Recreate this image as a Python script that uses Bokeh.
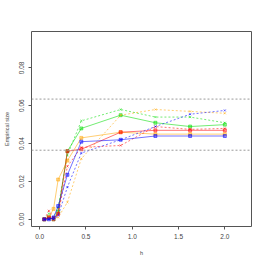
from bokeh.plotting import figure
from bokeh.models import FixedTicker, Span, Range1d
from bokeh.embed import file_html
from bokeh.resources import INLINE

h = [0.05, 0.1, 0.15, 0.2, 0.3, 0.45, 0.875, 1.25, 1.625, 2.0]

green_solid = [0.000, 0.001, 0.000, 0.004, 0.036, 0.048, 0.055, 0.051, 0.049, 0.050]
green_dash = [0.000, 0.003, 0.001, 0.006, 0.034, 0.052, 0.058, 0.054, 0.054, 0.051]
orange_solid = [0.000, 0.001, 0.0055, 0.021, 0.031, 0.043, 0.046, 0.045, 0.045, 0.045]
orange_dash = [0.000, 0.000, 0.001, 0.001, 0.009, 0.032, 0.055, 0.058, 0.057, 0.056]
red_solid = [0.000, 0.001, 0.000, 0.003, 0.036, 0.037, 0.046, 0.047, 0.047, 0.047]
red_dash = [0.000, 0.0045, 0.001, 0.0025, 0.028, 0.038, 0.039, 0.049, 0.0475, 0.048]
blue_solid = [0.000, 0.000, 0.001, 0.007, 0.0235, 0.041, 0.042, 0.044, 0.044, 0.044]
blue_dash = [0.000, 0.000, 0.000, 0.002, 0.017, 0.035, 0.042, 0.049, 0.0555, 0.0575]

ref_lines = [0.0365, 0.0635]

x_ticks = [0.0, 0.5, 1.0, 1.5, 2.0]
x_tick_labels = ["0.0", "0.5", "1.0", "1.5", "2.0"]
y_ticks = [0.00, 0.02, 0.04, 0.06, 0.08]
y_tick_labels = ["0.00", "0.02", "0.04", "0.06", "0.08"]

series = [
    (green_solid, "#00dd00", "solid", "square"),
    (green_dash, "#00dd00", "2 2", "x"),
    (orange_solid, "#ffa500", "solid", "square"),
    (orange_dash, "#ffa500", "2 2", "x"),
    (red_solid, "#ff0000", "solid", "square"),
    (red_dash, "#ff0000", "2 2", "x"),
    (blue_solid, "#0000ff", "solid", "square"),
    (blue_dash, "#0000ff", "2 2", "x"),
]

FONT = "Liberation Sans"

p = figure(width=258, height=258, output_backend="svg", toolbar_location=None,
           x_range=Range1d(-0.088, 2.288), y_range=Range1d(-0.0038, 0.0992),
           min_border_left=31, min_border_right=7, min_border_top=31, min_border_bottom=31,
           background_fill_color="white", border_fill_color="white")

p.xgrid.visible = False
p.ygrid.visible = False
p.outline_line_color = "#555555"
p.outline_line_width = 1

for ax in (p.xaxis[0], p.yaxis[0]):
    ax.axis_line_color = None
    ax.major_tick_in = 0
    ax.major_tick_out = 3
    ax.minor_tick_out = 0
    ax.minor_tick_in = 0
    ax.major_tick_line_color = "#555555"
    ax.major_label_text_font = FONT
    ax.major_label_text_font_size = "6.5px"
    ax.major_label_text_color = "#444444"
    ax.axis_label_text_font = FONT
    ax.axis_label_text_font_size = "5.5px"
    ax.axis_label_text_font_style = "normal"
    ax.axis_label_text_color = "#444444"

p.xaxis.ticker = FixedTicker(ticks=x_ticks)
p.xaxis.major_label_overrides = {t: l for t, l in zip(x_ticks, x_tick_labels)}
p.yaxis.ticker = FixedTicker(ticks=y_ticks)
p.yaxis.major_label_overrides = {t: l for t, l in zip(y_ticks, y_tick_labels)}
p.yaxis.major_label_orientation = "vertical"
p.xaxis.axis_label = "h"
p.yaxis.axis_label = "Empirical size"
p.xaxis.major_label_standoff = 4
p.xaxis.axis_label_standoff = 8
p.yaxis.major_label_standoff = 4
p.yaxis.axis_label_standoff = 7

for v in ref_lines:
    p.add_layout(Span(location=v, dimension="width", line_color="#999999",
                      line_dash="2 2", line_width=1))

for ys, col, dash, marker in series:
    p.line(h, ys, line_color=col, line_dash=dash, line_width=1, line_alpha=0.55)
    p.scatter(h, ys, marker=marker, size=3, line_color=col, fill_color=col,
              line_alpha=0.5, fill_alpha=0.4)

open("out.html", "w").write(file_html(p, INLINE))
